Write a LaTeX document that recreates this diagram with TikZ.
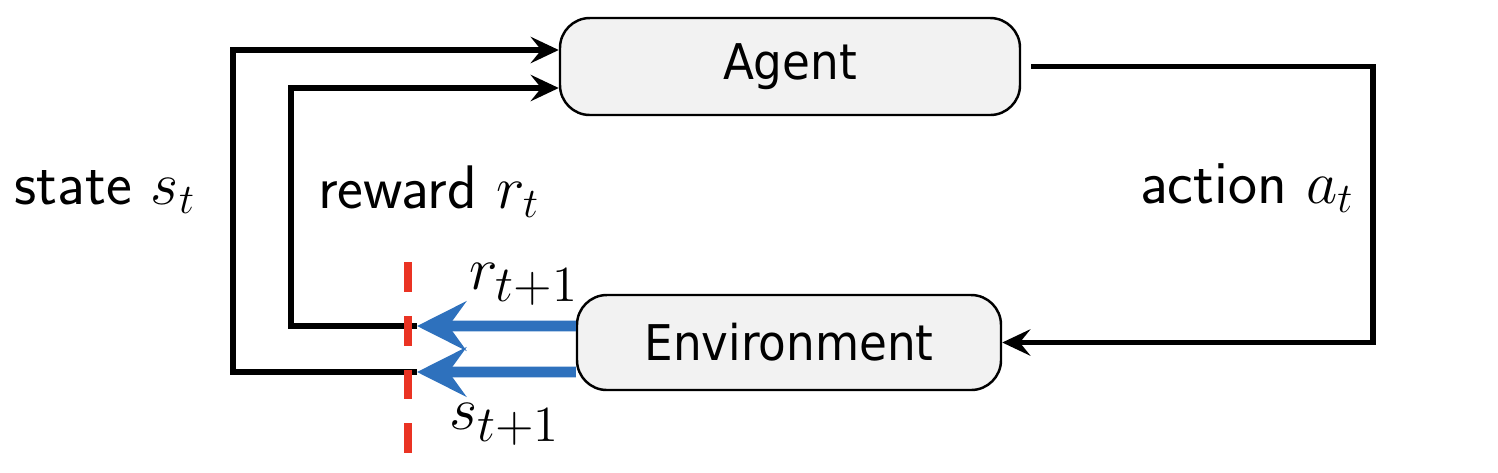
\documentclass[tikz,border=0pt]{standalone}
\usepackage{fontspec}
\newfontfamily\boxfont[FakeStretch=0.92]{DejaVu Sans}
\definecolor{rlblue}{RGB}{46,113,189}
\definecolor{rlred}{RGB}{234,51,35}
\definecolor{rlgray}{RGB}{242,242,242}
\usetikzlibrary{arrows.meta}

\begin{document}
\begin{tikzpicture}[
  boxnode/.style={draw,rounded corners=8.5pt,fill=rlgray,line width=0.7pt,
                  font=\boxfont\fontsize{14}{16}\selectfont},
  lbl/.style={font=\sffamily\fontsize{17.5}{20}\selectfont},
  sublbl/.style={font=\fontsize{19}{22}\selectfont},
  arr/.style={-{Stealth[length=8pt,width=7.5pt,inset=3pt]},line width=1.5pt},
  flow/.style={-{Stealth[length=14pt,width=14pt,inset=5pt]},line width=3pt,rlblue},
  cut/.style={rlred,line width=2.3pt,dash pattern=on 8.5pt off 6.8pt},
]
  \useasboundingbox (0,0) rectangle (14.98,4.72);

  % Agent and environment
  \node[boxnode,minimum width=4.6cm,minimum height=0.97cm] (agent) at (7.90,4.055) {Agent};
  \node[boxnode,minimum width=4.24cm,minimum height=0.95cm] (env) at (7.89,1.295) {Environment};

  % Cut points at the time step boundary
  \coordinate (rtip) at (4.17,1.46);
  \coordinate (stip) at (4.17,1.00);

  % Feedback loops to the agent
  \draw[arr] (stip) -- (2.33,1.00) |- ([yshift=0.165cm]agent.west);
  \draw[arr] (rtip) -- (2.91,1.46) |- ([yshift=-0.215cm]agent.west);

  % Action loop to the environment
  \draw[arr] ([xshift=0.1cm]agent.east) -- (13.73,4.055) |- (env.east);

  % New reward and state
  \draw[flow] ([yshift=0.165cm]env.west) -- (rtip);
  \draw[flow] ([yshift=-0.295cm]env.west) -- (stip);

  % Time step boundary
  \draw[cut] (4.08,2.10) coordinate (ctop) -- (4.08,0.17) coordinate (cbot);

  % Labels
  \node[lbl] (lstate) at (1.05,2.80) {state $s_t$};
  \node[lbl] (lreward) at (4.29,2.80) {reward $r_t$};
  \node[lbl] (laction) at (12.47,2.84) {action $a_t$};
  \node[sublbl] (lrnext) at (5.24,1.88) {$r_{t+1}$};
  \node[sublbl] (lsnext) at (5.05,0.48) {$s_{t+1}$};
\end{tikzpicture}
\end{document}
